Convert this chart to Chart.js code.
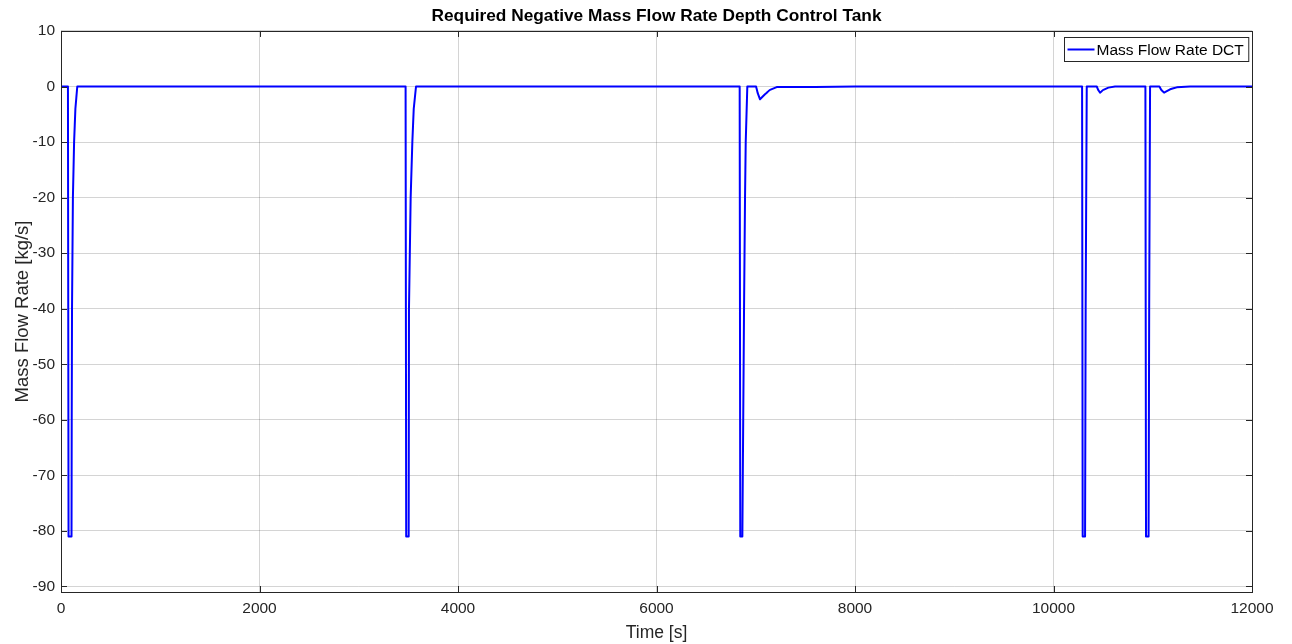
<!DOCTYPE html>
<html>
<head>
<meta charset="utf-8">
<script src="https://cdn.jsdelivr.net/npm/chart.js@4/dist/chart.umd.min.js"></script>
<style>
  html, body { margin: 0; padding: 0; background: #ffffff; }
  #wrap { width: 1292px; height: 644px; position: relative; }
</style>
</head>
<body>
<div id="wrap"><canvas id="c" width="1292" height="644"></canvas></div>
<script>
// Sample times [s] of the depth-control-tank flow record
const timeS = [
  0, 70, 76, 106, 108, 111, 120, 132, 145, 164, 300,
  3472, 3478, 3503, 3506, 3523, 3540, 3554, 3577, 3700,
  6838, 6844, 6865, 6882, 6892, 6899, 6915, 7003, 7020, 7043, 7093, 7144, 7211, 7600, 8000,
  10288, 10294, 10318, 10324, 10335, 10436, 10450, 10469, 10503, 10553, 10620,
  10926, 10932, 10958, 10964, 10973, 11067, 11085, 11114, 11175, 11242, 11376, 12000
];
// Required negative mass flow rate [kg/s] at each sample time
const flowDCT = [
  0, 0, -81, -81, -60, -40, -20, -10, -4, 0, 0,
  0, -81, -81, -40, -20, -10, -4, 0, 0,
  0, -81, -81, -40, -20, -10, 0, 0, -1.2, -2.3, -1.4, -0.6, -0.1, -0.1, 0,
  0, -81, -81, -40, 0, 0, -0.6, -1.1, -0.6, -0.2, 0,
  0, -81, -81, -40, 0, 0, -0.6, -1.1, -0.5, -0.15, 0, 0
];
const xTickLabels = [0, 2000, 4000, 6000, 8000, 10000, 12000];
const yTickLabels = [10, 0, -10, -20, -30, -40, -50, -60, -70, -80, -90];

const seriesLabel = 'Mass Flow Rate DCT';
const FONT = '"Liberation Sans", Arial, Helvetica, sans-serif';
const AXIS_COLOR = '#262626';
const GRID_COLOR = 'rgba(0,0,0,0.17)';

const points = timeS.map((t, i) => ({ x: t, y: flowDCT[i] }));

// Frame around the plot area plus inward tick marks on all four sides
const framePlugin = {
  id: 'frame',
  afterDraw(chart) {
    const { ctx, chartArea: a, scales } = chart;
    ctx.save();
    ctx.strokeStyle = AXIS_COLOR;
    ctx.lineWidth = 1;
    const tl = 6;
    ctx.beginPath();
    scales.x.ticks.forEach(t => {
      const px = Math.round(scales.x.getPixelForValue(t.value)) + 0.5;
      ctx.moveTo(px, a.bottom); ctx.lineTo(px, a.bottom - tl);
      ctx.moveTo(px, a.top); ctx.lineTo(px, a.top + tl);
    });
    scales.y.ticks.forEach(t => {
      const py = Math.round(scales.y.getPixelForValue(t.value)) + 0.5;
      ctx.moveTo(a.left, py); ctx.lineTo(a.left + tl, py);
      ctx.moveTo(a.right, py); ctx.lineTo(a.right - tl, py);
    });
    ctx.stroke();
    ctx.strokeRect(Math.round(a.left) + 0.5, Math.round(a.top) + 0.5,
                   Math.round(a.right - a.left), Math.round(a.bottom - a.top));
    ctx.restore();
  }
};

// Boxed legend in the upper-right corner of the plot
const legendPlugin = {
  id: 'boxLegend',
  afterDraw(chart) {
    const { ctx, chartArea: a } = chart;
    const ds = chart.data.datasets[0];
    ctx.save();
    ctx.font = '15.5px ' + FONT;
    const textW = ctx.measureText(ds.label).width;
    const boxW = 2 + 27 + 3 + textW + 5;
    const boxH = 24;
    const bx = Math.round(a.right - 4 - boxW) + 0.5;
    const by = Math.round(a.top + 6) + 0.5;
    ctx.fillStyle = '#ffffff';
    ctx.fillRect(bx, by, boxW, boxH);
    ctx.strokeStyle = AXIS_COLOR;
    ctx.lineWidth = 1;
    ctx.strokeRect(bx, by, boxW, boxH);
    ctx.strokeStyle = ds.borderColor;
    ctx.lineWidth = 2;
    ctx.beginPath();
    ctx.moveTo(bx + 3, by + boxH / 2);
    ctx.lineTo(bx + 30, by + boxH / 2);
    ctx.stroke();
    ctx.fillStyle = '#000000';
    ctx.textBaseline = 'middle';
    ctx.fillText(ds.label, bx + 32, by + boxH / 2 + 1);
    ctx.restore();
  }
};

new Chart(document.getElementById('c'), {
  type: 'scatter',
  data: {
    datasets: [{
      label: seriesLabel,
      data: points,
      showLine: true,
      borderColor: '#0000ff',
      backgroundColor: '#0000ff',
      borderWidth: 2,
      borderJoinStyle: 'round',
      borderCapStyle: 'round',
      pointRadius: 0,
      // a vanishing tension keeps segments straight while avoiding the
      // per-pixel fast path, which would merge the steep flanks
      tension: 0.000001,
      fill: false
    }]
  },
  options: {
    responsive: false,
    animation: false,
    devicePixelRatio: 1,
    layout: { padding: { left: 0, right: 40, top: 0, bottom: 0 } },
    plugins: {
      legend: { display: false },
      tooltip: { enabled: false },
      title: {
        display: true,
        fullSize: false,
        text: 'Required Negative Mass Flow Rate Depth Control Tank',
        color: '#000000',
        font: { family: FONT, size: 17.3, weight: 'bold', lineHeight: 1.2 },
        padding: { top: 6, bottom: 4.2 }
      }
    },
    scales: {
      x: {
        type: 'linear',
        min: 0,
        max: 12000,
        afterBuildTicks(scale) { scale.ticks = xTickLabels.map(v => ({ value: v })); },
        afterFit(scale) { scale.height = 52; },
        grid: { color: GRID_COLOR, drawTicks: false, drawOnChartArea: true },
        border: { display: false },
        ticks: {
          color: AXIS_COLOR,
          padding: 7,
          maxRotation: 0,
          font: { family: FONT, size: 15.5 },
          callback: v => String(v)
        },
        title: {
          display: true,
          text: 'Time [s]',
          color: AXIS_COLOR,
          font: { family: FONT, size: 17.5 },
          padding: { top: 2, bottom: 0 }
        }
      },
      y: {
        type: 'linear',
        min: -91,
        max: 10,
        afterBuildTicks(scale) { scale.ticks = yTickLabels.map(v => ({ value: v })); },
        afterFit(scale) { scale.width = 61; },
        grid: { color: GRID_COLOR, drawTicks: false },
        border: { display: false },
        ticks: {
          color: AXIS_COLOR,
          padding: 6,
          font: { family: FONT, size: 15.5 },
          callback: v => String(v)
        },
        title: {
          display: true,
          text: 'Mass Flow Rate [kg/s]',
          color: AXIS_COLOR,
          font: { family: FONT, size: 18.5 },
          padding: { top: 12, bottom: 0 }
        }
      }
    }
  },
  plugins: [framePlugin, legendPlugin]
});
</script>
</body>
</html>
